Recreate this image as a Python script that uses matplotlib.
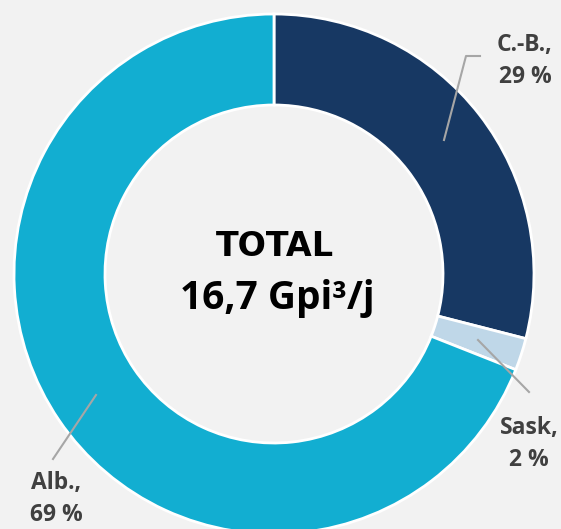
import matplotlib.pyplot as plt

labels = ["C.-B.,\n29 %", "Sask,\n2 %", "Alb.,\n69 %"]
shares = [29, 2, 69]
colors = ["#173863", "#bfd7e8", "#12aed1"]

bg = "#f2f2f2"
fig = plt.figure(figsize=(5.61, 5.29), dpi=100, facecolor=bg)
ax = fig.add_axes([0, 0, 1, 1])
ax.set_facecolor(bg)

# work in pixel units so the ring sits where it does in the original
cx, cy, r = 274, 529 - 274, 260
ax.pie(shares, colors=colors, startangle=90, counterclock=False,
       center=(cx, cy), radius=r, frame=True,
       wedgeprops=dict(width=r * 0.35, edgecolor="white", linewidth=2))
ax.set_xlim(0, 561)
ax.set_ylim(0, 529)
ax.set_aspect("equal")
ax.axis("off")

txt = dict(color="#404040", fontsize=16.5, fontweight="bold", family="Open Sans",
           ha="center", va="center", linespacing=1.4)
line = dict(color="#a6a6a6", lw=1.5)

# C.-B.
ax.plot([444, 466, 480], [529 - 140, 529 - 56, 529 - 56], **line)
ax.text(525, 529 - 61, labels[0], **txt)
# Sask
ax.plot([478, 529], [529 - 340, 529 - 392], **line)
ax.text(529, 529 - 444, labels[1], **txt)
# Alb.
ax.plot([96, 53], [529 - 395, 529 - 459], **line)
ax.text(56, 529 - 499, labels[2], **txt)

ax.text(275, 529 - 247, "TOTAL", fontsize=24, fontweight="heavy", family="DejaVu Sans",
        ha="center", va="center", color="black")
ax.text(277, 529 - 298, "16,7 Gpi³/j", fontsize=28, fontweight="bold", family="Open Sans",
        ha="center", va="center", color="black")

fig.savefig("out.png", dpi=100, facecolor=bg)
